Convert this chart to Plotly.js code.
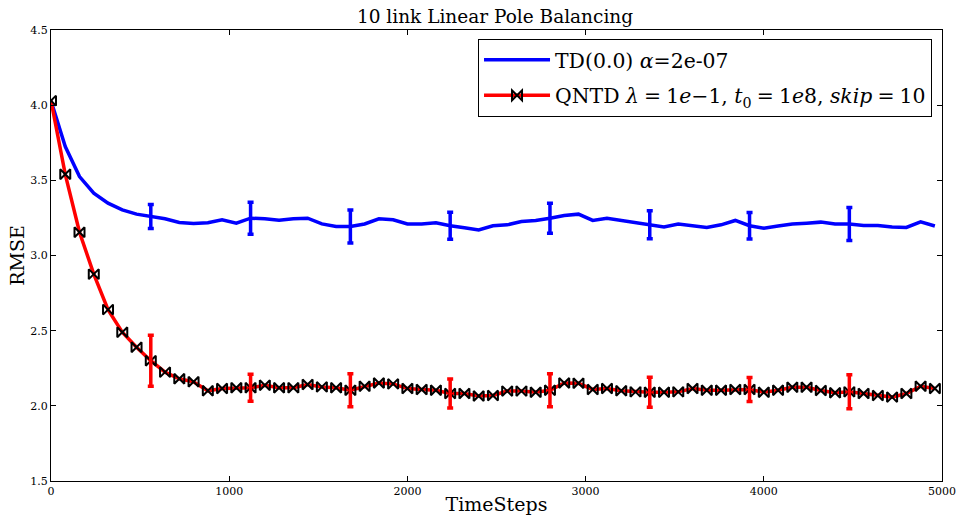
<!DOCTYPE html>
<html>
<head>
<meta charset="utf-8">
<script src="https://cdn.plot.ly/plotly-3.0.1.min.js"></script>
<style>html,body{margin:0;padding:0;background:#fff;}#chart{width:960px;height:515px;}</style>
</head>
<body>
<div id="chart"></div>
<script>
var steps = [0,80,160,240,320,400,480,560,640,720,800,880,960,1040,1120,1200,1280,1360,1440,1520,1600,1680,1760,1840,1920,2000,2080,2160,2240,2320,2400,2480,2560,2640,2720,2800,2880,2960,3040,3120,3200,3280,3360,3440,3520,3600,3680,3760,3840,3920,4000,4080,4160,4240,4320,4400,4480,4560,4640,4720,4800,4880,4960];

var tdRmse = [4.03,3.725,3.525,3.415,3.348,3.304,3.275,3.26,3.244,3.22,3.213,3.218,3.238,3.215,3.248,3.244,3.235,3.244,3.248,3.21,3.193,3.193,3.21,3.244,3.238,3.21,3.21,3.218,3.198,3.185,3.17,3.198,3.204,3.226,3.233,3.248,3.266,3.275,3.233,3.248,3.233,3.222,3.204,3.19,3.21,3.198,3.187,3.204,3.233,3.198,3.182,3.196,3.21,3.215,3.222,3.21,3.21,3.2,3.2,3.19,3.187,3.224,3.196];

var qntdRmse = [4.03,3.54,3.155,2.876,2.64,2.49,2.39,2.30,2.224,2.18,2.16,2.10,2.115,2.12,2.12,2.137,2.12,2.12,2.142,2.126,2.12,2.104,2.13,2.152,2.146,2.115,2.109,2.104,2.082,2.082,2.065,2.069,2.098,2.098,2.09,2.104,2.152,2.15,2.109,2.115,2.10,2.093,2.09,2.09,2.093,2.115,2.104,2.104,2.109,2.109,2.09,2.104,2.124,2.124,2.102,2.087,2.093,2.082,2.069,2.058,2.082,2.13,2.115];

var errSteps = [560,1120,1680,2240,2800,3360,3920,4480];
var tdErr = [0.08,0.107,0.11,0.09,0.1,0.093,0.088,0.11];
var qntdErr = [0.17,0.09,0.11,0.096,0.11,0.1,0.08,0.113];

var xTicks = [0,1000,2000,3000,4000,5000];
var yTicks = [1.5,2.0,2.5,3.0,3.5,4.0,4.5];
var yTickText = ['1.5','2.0','2.5','3.0','3.5','4.0','4.5'];

var tdName = 'TD(0.0) <i>α</i>=2e-07';
var qntdName = 'QNTD <i>λ</i>\u2005=\u20051<i>e</i>−1, <i>t</i><sub>0</sub>\u2005=\u20051<i>e</i>8, <i>skip</i>\u2005=\u200510';

function pick(arr){ return errSteps.map(function(s){ return arr[steps.indexOf(s)]; }); }

var serif = 'DejaVu Serif, serif';

var traces = [
  {
    x: steps, y: tdRmse, type: 'scatter', mode: 'lines',
    name: tdName, legendgroup: 'a',
    line: {color: '#0000ff', width: 3.5}
  },
  {
    x: steps, y: qntdRmse, type: 'scatter', mode: 'lines+markers',
    name: qntdName, legendgroup: 'b',
    line: {color: '#ff0000', width: 3.5},
    marker: {symbol: 'bowtie-open', size: 10, color: '#000000', line: {width: 2, color: '#000000'}}
  },
  {
    x: errSteps, y: pick(tdRmse), type: 'scatter', mode: 'markers',
    showlegend: false, hoverinfo: 'skip', legendgroup: 'a',
    marker: {size: 1, color: 'rgba(0,0,0,0)'},
    error_y: {type: 'data', array: tdErr, visible: true, color: '#0000ff', thickness: 3.5, width: 3}
  },
  {
    x: errSteps, y: pick(qntdRmse), type: 'scatter', mode: 'markers',
    showlegend: false, hoverinfo: 'skip', legendgroup: 'b',
    marker: {size: 1, color: 'rgba(0,0,0,0)'},
    error_y: {type: 'data', array: qntdErr, visible: true, color: '#ff0000', thickness: 3.5, width: 3}
  }
];

var axisCommon = {
  showgrid: false, zeroline: false, showline: true, linecolor: '#000', linewidth: 1,
  mirror: 'ticks', ticks: 'inside', ticklen: 5, tickcolor: '#000', tickwidth: 1,
  tickfont: {family: serif, size: 11, color: '#000'}
};

var layout = {
  width: 960, height: 515,
  margin: {l: 51, r: 18, t: 30, b: 34},
  paper_bgcolor: '#fff', plot_bgcolor: '#fff',
  title: {text: '10 link Linear Pole Balancing', font: {family: serif, size: 18.5, color: '#000'},
          x: 0.5156, xanchor: 'center', y: 0.967, yanchor: 'middle'},
  xaxis: Object.assign({}, axisCommon, {
    range: [0, 5000], tickvals: xTicks, ticktext: xTicks.map(String),
    title: {text: 'TimeSteps', font: {family: serif, size: 19, color: '#000'}, standoff: 4}
  }),
  yaxis: Object.assign({}, axisCommon, {
    range: [1.5, 4.5], tickvals: yTicks, ticktext: yTickText,
    title: {text: 'RMSE', font: {family: serif, size: 19, color: '#000'}, standoff: 0}
  }),
  showlegend: true,
  legend: {
    x: 0.9888, xanchor: 'right', y: 0.980, yanchor: 'top',
    bgcolor: '#fff', bordercolor: '#000', borderwidth: 1,
    font: {family: serif, size: 20.4, color: '#000'},
    itemwidth: 66, tracegroupgap: 6, traceorder: 'grouped'
  }
};

Plotly.newPlot('chart', traces, layout, {staticPlot: true, displayModeBar: false});
</script>
</body>
</html>
